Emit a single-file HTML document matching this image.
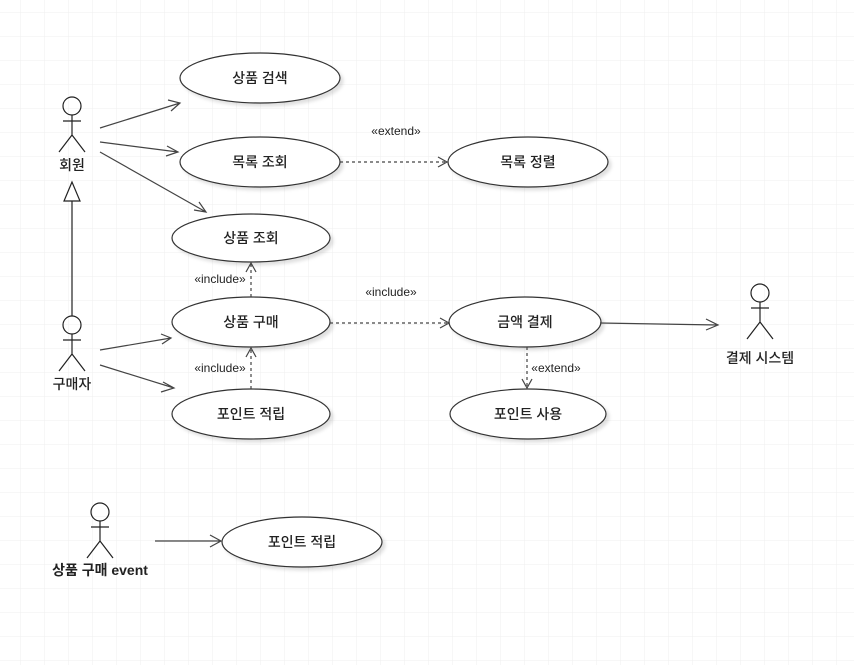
<!DOCTYPE html>
<html><head><meta charset="utf-8"><style>
html,body{margin:0;padding:0;background:#fff}
svg{display:block}
text{font-family:"Liberation Sans","Noto Sans CJK KR",sans-serif;fill:#222}
</style></head><body>
<svg width="854" height="665" xmlns="http://www.w3.org/2000/svg">
<defs>
<pattern id="g" x="20" y="12" width="24" height="24" patternUnits="userSpaceOnUse">
<path d="M0 0H24M0 0V24" stroke="#efefef" stroke-width="1" fill="none"/>
</pattern>
<filter id="sh" x="-10%" y="-20%" width="130%" height="150%"><feDropShadow dx="3" dy="3" stdDeviation="1.5" flood-color="#000" flood-opacity="0.12"/></filter>
</defs>
<rect width="854" height="665" fill="url(#g)"/>
<g fill="#fff" stroke="#333" stroke-width="1.2" filter="url(#sh)">
<ellipse cx="260" cy="78" rx="80" ry="25"/>
<ellipse cx="260" cy="162" rx="80" ry="25"/>
<ellipse cx="528" cy="162" rx="80" ry="25"/>
<ellipse cx="251" cy="238" rx="79" ry="24"/>
<ellipse cx="251" cy="322" rx="79" ry="25"/>
<ellipse cx="251" cy="414" rx="79" ry="25"/>
<ellipse cx="525" cy="322" rx="76" ry="25"/>
<ellipse cx="528" cy="414" rx="78" ry="25"/>
<ellipse cx="302" cy="542" rx="80" ry="25"/>
</g>
<g font-size="14" text-anchor="middle" font-weight="500">
<text x="260" y="83">상품 검색</text>
<text x="260" y="167">목록 조회</text>
<text x="528" y="167">목록 정렬</text>
<text x="251" y="243">상품 조회</text>
<text x="251" y="327">상품 구매</text>
<text x="251" y="419">포인트 적립</text>
<text x="525" y="327">금액 결제</text>
<text x="528" y="419">포인트 사용</text>
<text x="302" y="547">포인트 적립</text>
</g>
<g fill="none" stroke="#222" stroke-width="1.2">
<g transform="translate(72,106)"><circle r="9"/><path d="M0 9V29M-9 15H9M0 29L-13 46M0 29L13 46"/></g>
<g transform="translate(72,325)"><circle r="9"/><path d="M0 9V29M-9 15H9M0 29L-13 46M0 29L13 46"/></g>
<g transform="translate(760,293)"><circle r="9"/><path d="M0 9V29M-9 15H9M0 29L-13 46M0 29L13 46"/></g>
<g transform="translate(100,512)"><circle r="9"/><path d="M0 9V29M-9 15H9M0 29L-13 46M0 29L13 46"/></g>
<path d="M72 201V316"/>
<path d="M72 182L64 201H80Z" fill="#fff"/>
</g>
<g font-size="14" text-anchor="middle" font-weight="500">
<text x="72" y="170">회원</text>
<text x="72" y="389">구매자</text>
<text x="760" y="363">결제 시스템</text>
<text x="100" y="575" font-weight="700">상품 구매 event</text>
</g>
<g fill="none" stroke="#444" stroke-width="1.2">
<path d="M100 128L180 103M168 100L180 103L171 111"/>
<path d="M100 142L178 152M167 146L178 152L166 156"/>
<path d="M100 152L206 212M194 210L206 212L199 202"/>
<path d="M100 350L171 338M161 334L171 338L162 344"/>
<path d="M100 365L174 388M163 382L174 388L161 392"/>
<path d="M600 323L718 325M706 319L718 325L706 330"/>
<path d="M155 541L221 541M210 535L221 541L210 547"/>
</g>
<g fill="none" stroke="#444" stroke-width="1.2">
<path d="M340 162L447 162" stroke-dasharray="3,3"/><path d="M438 157L447 162L438 167"/>
<path d="M251 297L251 263" stroke-dasharray="3,3"/><path d="M246 272L251 263L256 272"/>
<path d="M251 389L251 348" stroke-dasharray="3,3"/><path d="M246 357L251 348L256 357"/>
<path d="M330 323L449 323" stroke-dasharray="3,3"/><path d="M440 318L449 323L440 328"/>
<path d="M527 347L527 388" stroke-dasharray="3,3"/><path d="M522 379L527 388L532 379"/>
</g>
<g font-size="12" fill="#333">
<text x="396" y="135" text-anchor="middle">«extend»</text>
<text x="220" y="283" text-anchor="middle">«include»</text>
<text x="220" y="372" text-anchor="middle">«include»</text>
<text x="391" y="296" text-anchor="middle">«include»</text>
<text x="556" y="372" text-anchor="middle">«extend»</text>
</g>
</svg>
</body></html>
